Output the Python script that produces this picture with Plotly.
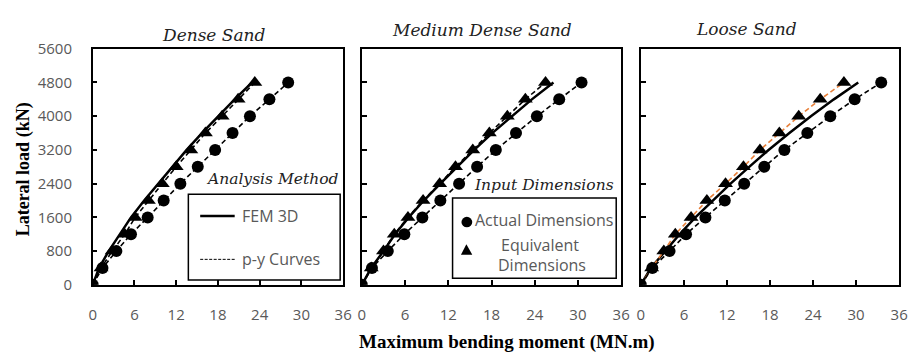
import plotly.graph_objects as go

W, H = 919, 359

# Lateral load levels (kN)
loads = [0, 400, 800, 1200, 1600, 2000, 2400, 2800, 3200, 3600, 4000, 4400, 4800]

# Maximum bending moment (MN.m) per soil type
dense_actual = [0, 1.4, 3.4, 5.5, 7.9, 10.2, 12.6, 15.1, 17.6, 20.1, 22.6, 25.4, 28.1]
dense_equiv = [0, 1.2, 2.8, 4.6, 6.1, 8.0, 10.0, 12.0, 14.1, 16.2, 18.6, 20.9, 23.3]
dense_fem = [0, 0.9, 2.3, 3.9, 5.5, 7.4, 9.4, 11.4, 13.5, 15.7, 18.0, 20.4, 22.9]

med_actual = [0, 1.4, 3.6, 5.9, 8.4, 10.9, 13.5, 16.0, 18.6, 21.4, 24.3, 27.4, 30.5]
med_equiv = [0, 1.3, 3.0, 4.5, 6.4, 8.5, 10.8, 13.0, 15.4, 17.7, 20.2, 22.7, 25.5]
med_fem = [0, 1.3, 3.0, 4.6, 6.5, 8.6, 10.9, 13.2, 15.6, 18.1, 20.8, 23.6, 26.6]

loose_actual = [0, 1.6, 4.0, 6.3, 9.0, 11.7, 14.4, 17.2, 20.0, 23.2, 26.4, 29.8, 33.5]
loose_equiv = [0, 1.5, 3.2, 4.8, 7.0, 9.2, 11.8, 14.3, 16.6, 19.3, 22.0, 25.0, 28.3]
loose_fem = [0, 1.4, 3.4, 5.4, 7.6, 10.0, 12.5, 15.1, 17.8, 20.7, 23.7, 26.9, 30.3]

panel_titles = ["Dense Sand", "Medium Dense Sand", "Loose Sand"]
x_ticks = [0, 6, 12, 18, 24, 30, 36]
y_ticks = [0, 800, 1600, 2400, 3200, 4000, 4800, 5600]

panels = [
    (dense_actual, dense_equiv, dense_fem, "black"),
    (med_actual, med_equiv, med_fem, "black"),
    (loose_actual, loose_equiv, loose_fem, "#E8803A"),
]


def px(x):
    return x / W


def py(y):
    return 1 - y / H


# panel frames in pixels: (left, right), top, bottom
x_dom = [(90, 344), (363, 626), (646, 908)]
top, bottom = 40, 290

fig = go.Figure()

tick_font = dict(family="Open Sans", size=15, color="#595959")

for i, (actual, equiv, fem, eq_color) in enumerate(panels):
    sfx = "" if i == 0 else str(i + 1)
    xa, ya = "x" + sfx, "y" + sfx
    fig.add_trace(go.Scatter(x=fem, y=loads, mode="lines", xaxis=xa, yaxis=ya,
                             line=dict(color="black", width=2.5), showlegend=False))
    fig.add_trace(go.Scatter(x=equiv, y=loads, mode="lines+markers", xaxis=xa, yaxis=ya,
                             line=dict(color=eq_color, width=1.6, dash="5px,3px"),
                             marker=dict(symbol="triangle-up", size=13, color="black"),
                             showlegend=False))
    fig.add_trace(go.Scatter(x=actual, y=loads, mode="lines+markers", xaxis=xa, yaxis=ya,
                             line=dict(color="black", width=1.6, dash="5px,3px"),
                             marker=dict(symbol="circle", size=12, color="black"),
                             showlegend=False))

    l, r = x_dom[i]
    axis_common = dict(showline=True, mirror=True, linecolor="black", linewidth=1.5,
                       ticks="inside", ticklen=5, tickwidth=1.5, tickcolor="black",
                       showgrid=False, zeroline=False, tickfont=tick_font)
    fig.layout["xaxis" + sfx] = dict(domain=[px(l), px(r)], range=[0, 36],
                                     tickvals=x_ticks, anchor=ya,
                                     ticklabelstandoff=15, **axis_common)
    fig.layout["yaxis" + sfx] = dict(domain=[py(bottom), py(top)], range=[0, 5600],
                                     tickvals=y_ticks, anchor=xa,
                                     showticklabels=(i == 0),
                                     ticklabelstandoff=16, **axis_common)

title_font = dict(family="DejaVu Serif", size=17, color="#222222", style="italic")
title_pos = [(213, 25), (485, 20), (753, 19)]
annotations = []
for t, (x, y) in zip(panel_titles, title_pos):
    annotations.append(dict(text=t, x=px(x), y=py(y), xref="paper", yref="paper",
                            showarrow=False, font=title_font, xanchor="center", yanchor="middle"))

# axis titles
annotations.append(dict(text="<b>Lateral load (kN)</b>", x=px(20), y=py(168),
                        xref="paper", yref="paper", showarrow=False, textangle=-90,
                        font=dict(family="Liberation Serif", size=18, color="black"),
                        xanchor="center", yanchor="middle"))
annotations.append(dict(text="<b>Maximum bending moment (MN.m)</b>", x=px(510), y=py(351),
                        xref="paper", yref="paper", showarrow=False,
                        font=dict(family="Liberation Serif", size=19, color="black"),
                        xanchor="center", yanchor="middle"))

legend_font = dict(family="Open Sans", size=16, color="#595959")
legend_title_font = dict(family="DejaVu Serif", size=15.5, color="#222222", style="italic")

# Analysis Method legend
annotations.append(dict(text="Analysis Method", x=px(272), y=py(178), xref="paper", yref="paper",
                        showarrow=False, font=legend_title_font, xanchor="center", yanchor="middle"))
annotations.append(dict(text="FEM 3D", x=px(239), y=py(217), xref="paper", yref="paper",
                        showarrow=False, font=legend_font, xanchor="left", yanchor="middle"))
annotations.append(dict(text="p-y Curves", x=px(239), y=py(263), xref="paper", yref="paper",
                        showarrow=False, font=legend_font, xanchor="left", yanchor="middle"))

# Input Dimensions legend
annotations.append(dict(text="Input Dimensions", x=px(548), y=py(184), xref="paper", yref="paper",
                        showarrow=False, font=legend_title_font, xanchor="center", yanchor="middle"))
annotations.append(dict(text="Actual Dimensions", x=px(476), y=py(221), xref="paper", yref="paper",
                        showarrow=False, font=legend_font, xanchor="left", yanchor="middle"))
annotations.append(dict(text="Equivalent", x=px(544), y=py(248), xref="paper", yref="paper",
                        showarrow=False, font=legend_font, xanchor="center", yanchor="middle"))
annotations.append(dict(text="Dimensions", x=px(546), y=py(269), xref="paper", yref="paper",
                        showarrow=False, font=legend_font, xanchor="center", yanchor="middle"))

shapes = [
    dict(type="rect", xref="paper", yref="paper", x0=px(187), x1=px(341), y0=py(285), y1=py(194),
         line=dict(color="black", width=1.5), fillcolor="white", layer="above"),
    dict(type="line", xref="paper", yref="paper", x0=px(199), x1=px(234), y0=py(217), y1=py(217),
         line=dict(color="black", width=2.5), layer="above"),
    dict(type="line", xref="paper", yref="paper", x0=px(199), x1=px(234), y0=py(263), y1=py(263),
         line=dict(color="black", width=1, dash="3px,1.5px"), layer="above"),
    dict(type="rect", xref="paper", yref="paper", x0=px(455), x1=px(621), y0=py(283), y1=py(198),
         line=dict(color="black", width=1.5), fillcolor="white", layer="above"),
    dict(type="circle", xref="paper", yref="paper", x0=px(464), x1=px(475), y0=py(229), y1=py(218),
         line=dict(color="black", width=0), fillcolor="black", layer="above"),
    dict(type="path", xref="paper", yref="paper",
         path=f"M {px(463.5)} {py(258)} L {px(475)} {py(258)} L {px(469)} {py(247)} Z",
         line=dict(color="black", width=0), fillcolor="black", layer="above"),
]

fig.update_layout(width=W, height=H, margin=dict(l=0, r=0, t=0, b=0),
                  paper_bgcolor="white", plot_bgcolor="white",
                  annotations=annotations, shapes=shapes, showlegend=False)

fig.write_html("out.html")
